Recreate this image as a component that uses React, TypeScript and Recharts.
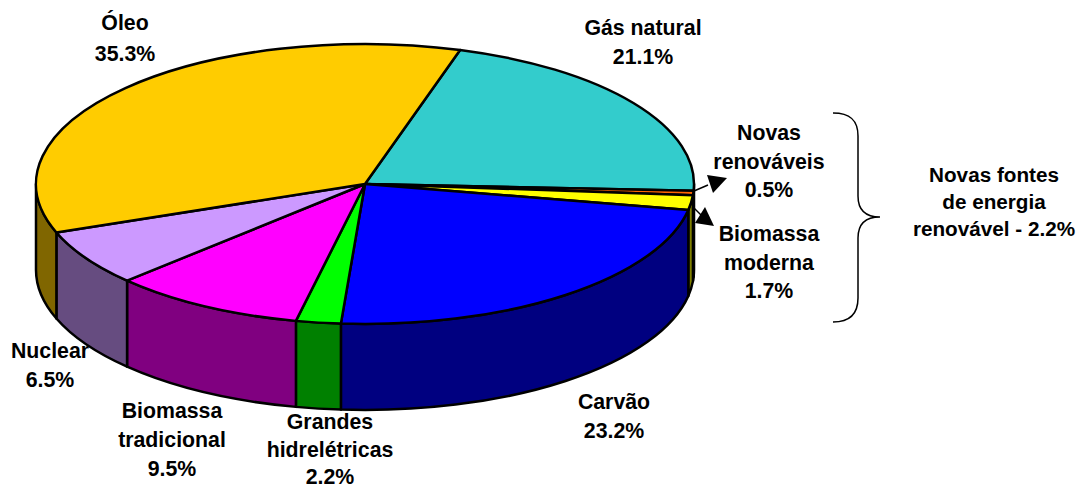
import React from "react";
import { PieChart, Pie, Customized } from "recharts";

const names = ["Gás natural", "Novas renováveis", "Biomassa moderna", "Carvão", "Grandes hidrelétricas", "Biomassa tradicional", "Nuclear", "Óleo"];
const shares = [21.1, 0.5, 1.7, 23.2, 2.2, 9.5, 6.5, 35.3];
const topColors = ["#33CCCC", "#FF6600", "#FFFF00", "#0000FF", "#00FF00", "#FF00FF", "#CC99FF", "#FFCC00"];
const wallColors = ["#1A6666", "#803300", "#808000", "#000080", "#008000", "#800080", "#664C80", "#806600"];
const labelLines = [
  ["Gás natural", "21.1%"],
  ["Novas", "renováveis", "0.5%"],
  ["Biomassa", "moderna", "1.7%"],
  ["Carvão", "23.2%"],
  ["Grandes", "hidrelétricas", "2.2%"],
  ["Biomassa", "tradicional", "9.5%"],
  ["Nuclear", "6.5%"],
  ["Óleo", "35.3%"],
];
const labelAnchors = [
  { x: 643, y: 35, dy: 29 },
  { x: 769, y: 140, dy: 28.5 },
  { x: 769, y: 241, dy: 28.5 },
  { x: 614, y: 409, dy: 29 },
  { x: 330, y: 429, dy: 27.5 },
  { x: 172, y: 418, dy: 29 },
  { x: 50, y: 358, dy: 29 },
  { x: 125, y: 30, dy: 31 },
];
const groupNote = ["Novas fontes", "de energia", "renovável - 2.2%"];

const data = names.map((name, i) => ({ name, value: shares[i], fill: topColors[i], wall: wallColors[i] }));

const WIDTH = 1080;
const HEIGHT = 489;
const CX = 365;
const CY = 184;
const RX = 329;
const SQUASH = 140 / 329;
const DEPTH = 86;
const FIRST_ANGLE = 73.2;
const FONT = "'Liberation Sans', Arial, sans-serif";

const pt = (cx: number, cy: number, r: number, deg: number) => {
  const a = (deg * Math.PI) / 180;
  return [cx + r * Math.cos(a), cy - r * SQUASH * Math.sin(a)];
};

const TopSlice = (p: any) => {
  const { cx, cy, outerRadius: r, startAngle: s, endAngle: e, fill } = p;
  const [x1, y1] = pt(cx, cy, r, s);
  const [x2, y2] = pt(cx, cy, r, e);
  const large = Math.abs(s - e) > 180 ? 1 : 0;
  const d = `M${cx},${cy} L${x1},${y1} A${r},${r * SQUASH} 0 ${large} 1 ${x2},${y2} Z`;
  return <path d={d} fill={fill} stroke="#000" strokeWidth={2.5} strokeLinejoin="round" />;
};

const WallSlice = (p: any) => {
  const { cx, cy, outerRadius: r, startAngle: s, endAngle: e, payload } = p;
  const wall = payload?.wall ?? p.wall;
  const parts: React.ReactNode[] = [];
  [[0, -180], [-360, -540]].forEach(([hi, lo], k) => {
    const a1 = Math.min(s, hi);
    const a2 = Math.max(e, lo);
    if (a1 <= a2) return;
    const [x1, y1] = pt(cx, cy, r, a1);
    const [x2, y2] = pt(cx, cy, r, a2);
    const ry = r * SQUASH;
    const d = `M${x1},${y1} A${r},${ry} 0 0 1 ${x2},${y2} L${x2},${y2 + DEPTH} A${r},${ry} 0 0 0 ${x1},${y1 + DEPTH} Z`;
    parts.push(<path key={k} d={d} fill={wall} stroke="#000" strokeWidth={2.5} strokeLinejoin="round" />);
  });
  return <g>{parts}</g>;
};

const textStyle = { fontFamily: FONT, fontWeight: 700, fontSize: 21.3, fill: "#000" } as const;
const noteStyle = { ...textStyle, fontSize: 20.7 };

const SliceLabel = (p: any) => {
  const a = labelAnchors[p.index];
  return (
    <text x={a.x} y={a.y} textAnchor="middle" style={textStyle}>
      {labelLines[p.index].map((t, i) => (
        <tspan key={i} x={a.x} y={a.y + i * a.dy}>{t}</tspan>
      ))}
    </text>
  );
};

const Notes = () => (
  <g>
    <path d="M694,191 L708,185" stroke="#000" strokeWidth={1.5} fill="none" />
    <path d="M707,175 L727,178 L713,193 Z" fill="#000" />
    <path d="M693,207 L701,215" stroke="#000" strokeWidth={1.5} fill="none" />
    <path d="M705,207 L714,226 L695,223 Z" fill="#000" />
    <path
      d="M833,113 C850,113 858,120 858,136 L858,196 C858,210 866,217 880,217 C866,217 858,224 858,238 L858,298 C858,314 850,322 833,322"
      fill="none"
      stroke="#000"
      strokeWidth={1.5}
    />
    <text textAnchor="middle" style={noteStyle}>
      {groupNote.map((t, i) => (
        <tspan key={i} x={994} y={182 + i * 27}>{t}</tspan>
      ))}
    </text>
  </g>
);

export default function App() {
  return (
    <div style={{ position: "absolute", left: 0, top: 0, width: WIDTH, height: HEIGHT, background: "#fff" }}>
      <PieChart width={WIDTH} height={HEIGHT} margin={{ top: 0, right: 0, bottom: 0, left: 0 }}>
        <Pie
          data={data}
          dataKey="value"
          nameKey="name"
          cx={CX}
          cy={CY}
          outerRadius={RX}
          startAngle={FIRST_ANGLE}
          endAngle={FIRST_ANGLE - 360}
          isAnimationActive={false}
          shape={WallSlice}
          label={false}
          labelLine={false}
        />
        <Pie
          data={data}
          dataKey="value"
          nameKey="name"
          cx={CX}
          cy={CY}
          outerRadius={RX}
          startAngle={FIRST_ANGLE}
          endAngle={FIRST_ANGLE - 360}
          isAnimationActive={false}
          shape={TopSlice}
          label={SliceLabel}
          labelLine={false}
        />
        <Customized component={Notes} />
      </PieChart>
    </div>
  );
}
